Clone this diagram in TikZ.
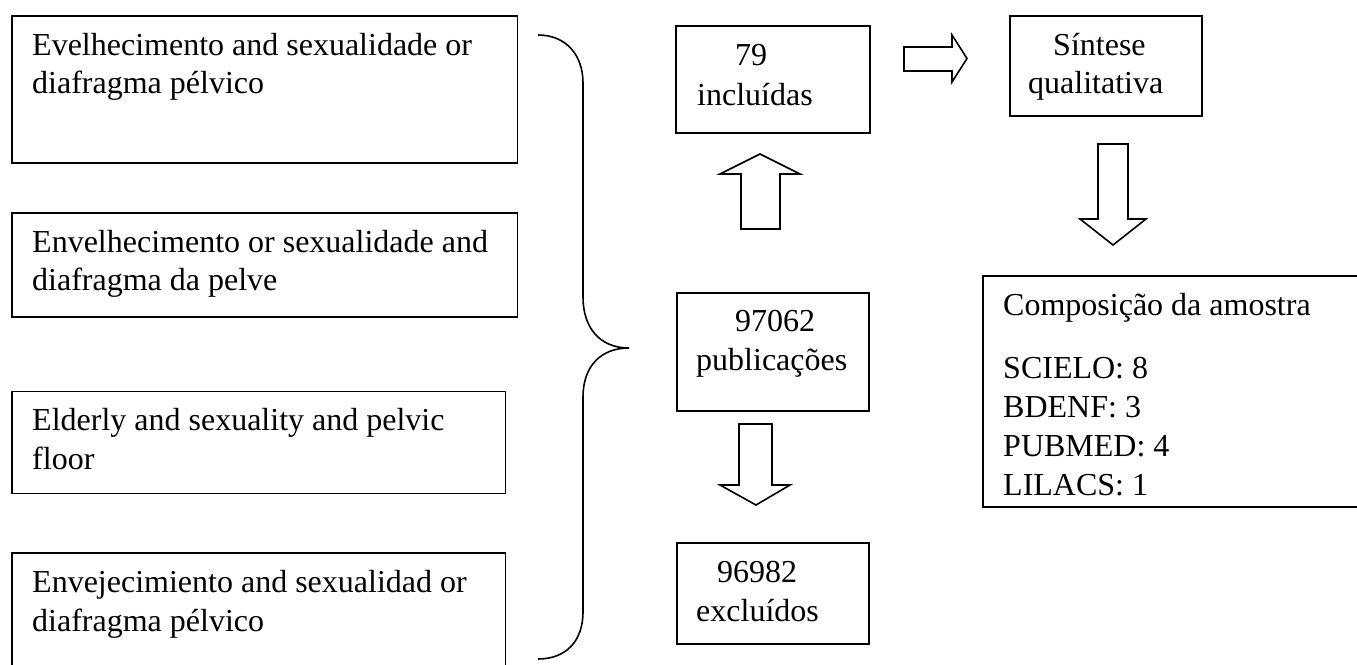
\documentclass[tikz,border=0pt]{standalone}
\usepackage{fontspec}
\setmainfont{Liberation Serif}
\begin{document}
\begin{tikzpicture}[x=1pt,y=-1pt,
  boxst/.style={draw, line width=1.6pt, rectangle, inner sep=0pt, anchor=north west},
  txt/.style={inner sep=0pt, anchor=base west, font=\fontsize{32}{39}\selectfont},
  barrow/.style={draw, line width=1.6pt, line join=miter, fill=white}]
\useasboundingbox (0,0) rectangle (1357,664);
\fill[white] (0,0) rectangle (1357,664);
\clip (0,0) rectangle (1357,664);

% left query boxes
\node[boxst, minimum width=505.5pt, minimum height=147pt] (b1) at (11,15) {};
\node[boxst, minimum width=505.5pt, minimum height=104pt] (b2) at (11,212) {};
\node[boxst, minimum width=493.5pt, minimum height=102pt] (b3) at (11,390.7) {};
\node[boxst, minimum width=493.5pt, minimum height=140pt] (b4) at (11,552.3) {};

\node[txt] (t1a) at (32,55) {Evelhecimento and sexualidade or};
\node[txt] (t1b) at (32,93.5) {diafragma pélvico};
\node[txt] (t2a) at (32,252) {Envelhecimento or sexualidade and};
\node[txt] (t2b) at (32,290.5) {diafragma da pelve};
\node[txt] (t3a) at (32,430) {Elderly and sexuality and pelvic};
\node[txt] (t3b) at (32,469) {floor};
\node[txt] (t4a) at (32,592) {Envejecimiento and sexualidad or};
\node[txt] (t4b) at (32,631) {diafragma pélvico};

% brace
\draw[line width=1.6pt] (538,35) .. controls (566,35) and (583,55) .. (583,83)
  -- (583,297) .. controls (583,328) and (600,348) .. (629,348)
  .. controls (600,348) and (583,367) .. (583,397)
  -- (583,612) .. controls (583,641) and (566,659) .. (538,659);

% middle column
\node[boxst, minimum width=194pt, minimum height=107pt] (inc) at (675,25) {};
\node[txt] (inca) at (735,65) {79};
\node[txt] (incb) at (697,105) {incluídas};

\node[boxst, minimum width=192pt, minimum height=118pt] (pub) at (676,292) {};
\node[txt] (puba) at (735,331) {97062};
\node[txt] (pubb) at (696,370) {publicações};

\node[boxst, minimum width=192pt, minimum height=101pt] (exc) at (676,542) {};
\node[txt] (exca) at (717,582) {96982};
\node[txt] (excb) at (696,621) {excluídos};

% right column
\node[boxst, minimum width=192pt, minimum height=100pt] (sin) at (1009,15) {};
\node[txt] (sina) at (1053,55) {Síntese};
\node[txt] (sinb) at (1028,93) {qualitativa};

\node[boxst, minimum width=420pt, minimum height=231pt] (comp) at (982,275) {};
\node[txt] (compa) at (1003,315) {Composição da amostra};
\node[txt] (compb) at (1003,378) {SCIELO: 8};
\node[txt] (compc) at (1003,417) {BDENF: 3};
\node[txt] (compd) at (1003,456) {PUBMED: 4};
\node[txt] (compe) at (1003,495) {LILACS: 1};

% block arrows
% up arrow (97062 -> 79)
\draw[barrow] (741,229) -- (741,174) -- (720,174) -- (760,154) -- (800,174) -- (780,174) -- (780,229) -- cycle;
% down arrow (97062 -> 96982)
\draw[barrow] (739,424) -- (772,424) -- (772,485) -- (790,485) -- (756,505) -- (720,485) -- (739,485) -- cycle;
% right arrow (79 -> Sintese)
\draw[barrow] (904,47) -- (952,47) -- (952,35) -- (967,58.5) -- (952,82) -- (952,71) -- (904,71) -- cycle;
% down arrow (Sintese -> Composicao)
\draw[barrow] (1098,144) -- (1128,144) -- (1128,219) -- (1146,219) -- (1113,245) -- (1080,219) -- (1098,219) -- cycle;
\end{tikzpicture}
\end{document}
